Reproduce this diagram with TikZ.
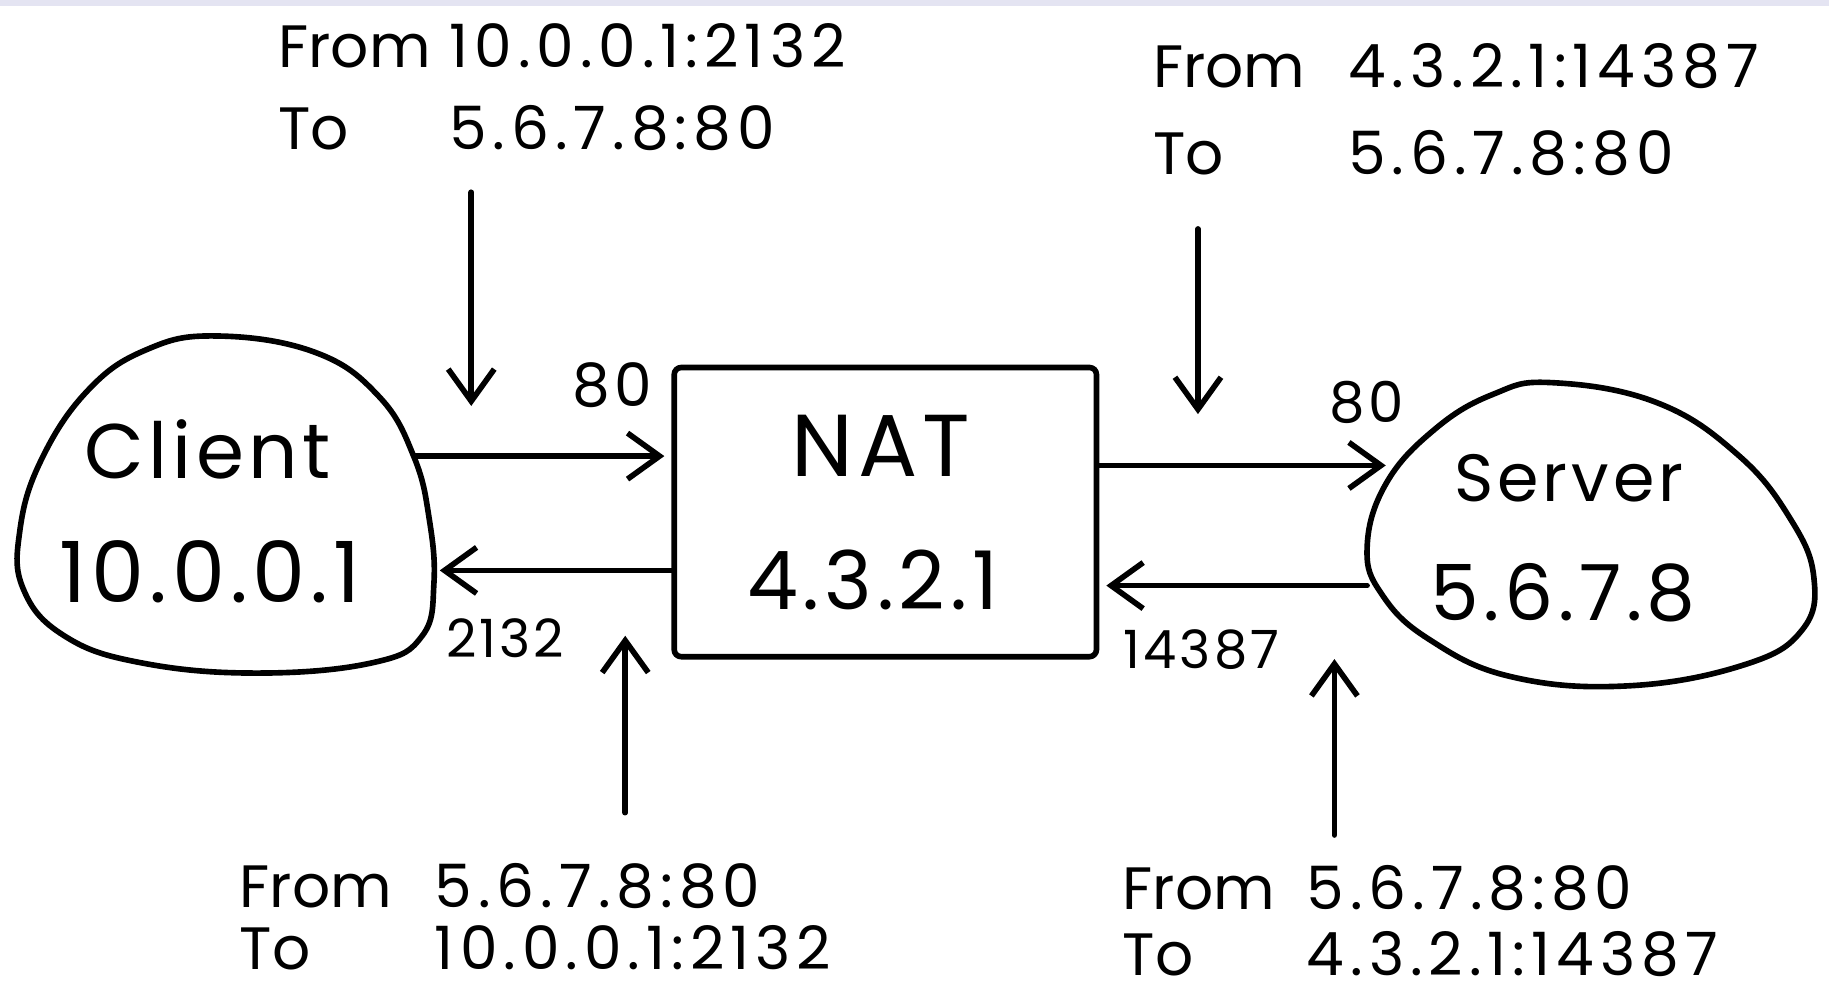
\documentclass[tikz,border=0pt]{standalone}
\usepackage{fontspec}
\newfontfamily\handfont[LetterSpace=6]{Poppins}
\newfontfamily\handwide[LetterSpace=10]{Poppins}
\newfontfamily\handtight{Poppins}
\usetikzlibrary{arrows.meta}
\definecolor{scanEdge}{RGB}{228,228,242}
\begin{document}
\begin{tikzpicture}[x=0.011665cm,y=-0.011665cm,
ink/.style={draw=black,line width=1.6pt,line cap=round,line join=round},
flow/.style={ink,-{Straight Barb[length=3.2mm,width=4.6mm,line width=1.6pt]}},
natBox/.style={ink,rounded corners=2pt,minimum width=4.22cm,minimum height=2.89cm,inner sep=0pt},
hostName/.style={font=\handfont\fontsize{23}{28}\selectfont,inner sep=0pt},
port/.style={font=\handfont\fontsize{16}{20}\selectfont,inner sep=0pt},
pkt/.style={font=\handwide\fontsize{17}{21}\selectfont,inner sep=0pt,anchor=base west}]
\path[use as bounding box] (0,0) rectangle (1568,851);
\fill[scanEdge] (0,0) rectangle (1568,5);
% hosts
\draw[ink] plot[smooth cycle,tension=0.7] coordinates {(185,288) (270,302) (325,340) (355,392) (368,445) (372,500) (362,545) (320,568) (220,577) (120,568) (55,545) (20,505) (17,455) (35,395) (75,335) (125,300)};
\node[hostName,font=\handfont\fontsize{22}{28}\selectfont] (cliName) at (178,385) {Client};
\node[hostName,font=\handfont\fontsize{24}{28}\selectfont] (cliAddr) at (180,490) {10.0.0.1};
\node[natBox] (nat) at (759,439) {};
\node[hostName,font=\handfont\fontsize{25}{30}\selectfont] (natName) at (755,382) {NAT};
\node[hostName] (natAddr) at (748,497) {4.3.2.1};
\draw[ink] plot[smooth cycle,tension=0.7] coordinates {(1330,328) (1420,345) (1490,390) (1535,445) (1555,495) (1545,540) (1495,570) (1395,588) (1295,580) (1225,548) (1185,510) (1172,470) (1188,415) (1230,368) (1280,338)};
\node[hostName,font=\handfont\fontsize{19}{24}\selectfont] (srvName) at (1345,410) {Server};
\node[hostName,font=\handfont\fontsize{22}{26}\selectfont] (srvAddr) at (1340,508) {5.6.7.8};
% ends of the links on the blobs
\coordinate (cliTx) at (355,391);
\coordinate (cliRx) at (377,489);
\coordinate (srvRx) at (1188,399);
\coordinate (srvTx) at (1172,502);
% links
\draw[flow,shorten >=2pt] (cliTx) -- (cliTx -| nat.west);
\draw[flow] (nat.west |- cliRx) -- (cliRx);
\draw[flow] (nat.east |- srvRx) -- (srvRx);
\draw[flow,shorten >=2pt] (srvTx) -- (srvTx -| nat.east);
\node[port,font=\handfont\fontsize{17}{20}\selectfont] (portA) at (525,330) {80};
\node[port,font=\handfont\fontsize{15}{18}\selectfont] (portB) at (433,547) {2132};
\node[port] (portC) at (1172,345) {80};
\node[port,font=\handfont\fontsize{15}{18}\selectfont] (portD) at (1030,557) {14387};
% packets
\node[pkt] (pktAfrom) at (238,58) {\makebox[1.71cm][l]{\handtight From}10.0.0.1:2132};
\node[pkt] (pktAto) at (238,128) {\makebox[1.71cm][l]{\handtight To}5.6.7.8:80};
\node[pkt] (pktBfrom) at (988,75) {\makebox[1.95cm][l]{\handtight From}4.3.2.1:14387};
\node[pkt] (pktBto) at (988,150) {\makebox[1.95cm][l]{\handtight To}5.6.7.8:80};
\node[pkt] (pktCfrom) at (205,778) {\makebox[1.95cm][l]{\handtight From}5.6.7.8:80};
\node[pkt] (pktCto) at (205,831) {\makebox[1.95cm][l]{\handtight To}10.0.0.1:2132};
\node[pkt] (pktDfrom) at (962,780) {\makebox[1.84cm][l]{\handtight From}5.6.7.8:80};
\node[pkt] (pktDto) at (962,836) {\makebox[1.84cm][l]{\handtight To}4.3.2.1:14387};
\coordinate (dropA) at (404,348);
\coordinate (dropB) at (1027,355);
\coordinate (riseC) at (536,545);
\coordinate (riseD) at (1144,565);
\draw[flow,shorten <=0.41cm] (pktAto.south -| dropA) -- (dropA);
\draw[flow,shorten <=0.52cm] (pktBto.south -| dropB) -- (dropB);
\draw[flow,shorten <=0.5cm] (pktCfrom.north -| riseC) -- (riseC);
\draw[flow,shorten <=0.3cm] (pktDfrom.north -| riseD) -- (riseD);
\end{tikzpicture}
\end{document}
